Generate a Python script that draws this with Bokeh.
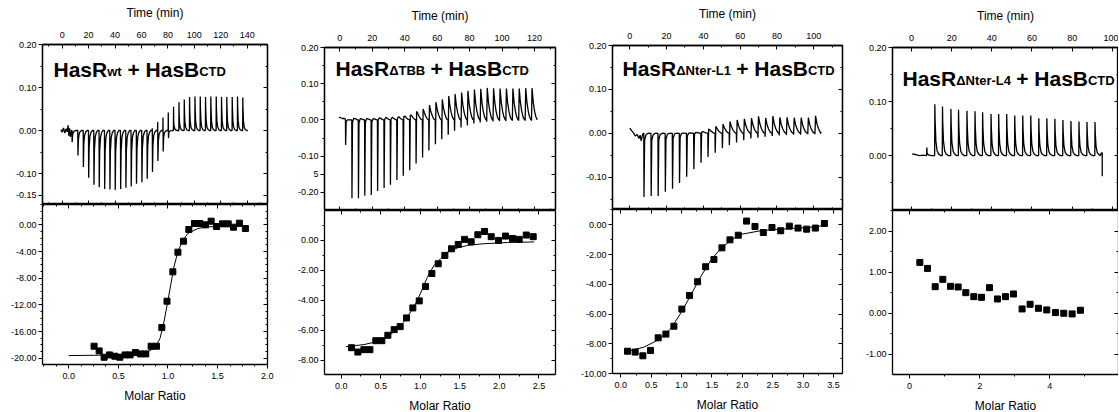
from bokeh.plotting import figure
from bokeh.layouts import row, column
from bokeh.models import LinearAxis, FixedTicker, CustomJSTickFormatter, Range1d, Label
from bokeh.embed import file_html
from bokeh.resources import INLINE

FONT = "Liberation Sans"

# ---------------- panel 1: HasR wt ----------------
p1_pre_t = [-1.0, 0.0, 1.0, 2.0, 3.0, 3.8, 4.5, 5.0, 5.6, 6.2, 7.0]
p1_pre_y = [0.002, -0.004, 0.006, -0.006, 0.004, -0.003, 0.012, -0.012, 0.005, -0.015, 0.0]
p1_inj_t = [7.3, 11.7, 15.8, 19.8, 23.8, 27.8, 31.9, 35.9, 39.9, 44.0, 48.0, 52.0, 56.0, 60.1,
            64.1, 68.1, 72.2, 76.2, 80.2, 84.2, 88.3, 92.3, 96.3, 100.4, 104.4, 108.4, 112.4,
            116.5, 120.5, 124.5, 128.6, 132.6, 136.6]
p1_neg = [-0.027, -0.058, -0.085, -0.110, -0.126, -0.132, -0.136, -0.137, -0.138, -0.136, -0.133,
          -0.130, -0.124, -0.120, -0.112, -0.100, -0.085, -0.070, -0.047, -0.022, -0.010, -0.005,
          -0.004, -0.003, -0.003, -0.003, -0.002, -0.002, -0.002, -0.002, -0.002, -0.002, -0.002]
p1_pos = [0, 0, 0, 0, 0, 0, 0, 0, 0, 0, 0, 0, 0, 0, 0, 0.005, 0.020, 0.030, 0.042, 0.055, 0.066,
          0.072, 0.078, 0.079, 0.079, 0.078, 0.079, 0.079, 0.078, 0.078, 0.078, 0.079, 0.077]
p1_end_t = [140.5]
p1_end_y = [0.0]
p1_mr = [0.255, 0.306, 0.356, 0.41, 0.464, 0.514, 0.568, 0.618, 0.672, 0.723, 0.776, 0.83, 0.884,
         0.938, 0.99, 1.049, 1.10, 1.156, 1.21, 1.267, 1.32, 1.378, 1.435, 1.49, 1.55, 1.607,
         1.66, 1.72, 1.78]
p1_heat = [-18.2, -18.9, -19.85, -19.5, -19.7, -19.85, -19.5, -19.5, -19.15, -19.35, -19.35, -18.2,
           -18.2, -15.4, -11.45, -7.05, -4.1, -2.45, -0.7, 0.2, 0.2, 0.0, 0.55, -0.25, 0.15, 0.15,
           -0.35, 0.25, -0.55]
p1_fit_x = [0.0, 0.3, 0.6, 0.8, 0.87, 0.92, 0.96, 1.0, 1.03, 1.06, 1.1, 1.15, 1.2, 1.3, 1.4, 1.55, 1.78]
p1_fit_y = [-19.6, -19.55, -19.4, -19.0, -18.4, -17.0, -14.5, -11.3, -8.8, -6.3, -4.0, -2.3, -1.3,
            -0.55, -0.3, -0.22, -0.2]

# ---------------- panel 2: HasR dTBB ----------------
p2_pre_t = [-0.5, 0.5, 1.5, 2.5, 3.3]
p2_pre_y = [0.008, 0.006, 0.004, 0.004, 0.003]
p2_inj_t = [3.5, 7.4, 11.4, 15.3, 19.3, 23.2, 27.2, 31.1, 35.1, 39.0, 43.0, 46.9, 50.9, 54.8, 58.8,
            62.7, 66.7, 70.6, 74.6, 78.5, 82.5, 86.4, 90.4, 94.3, 98.3, 102.2, 106.2, 110.1, 114.1, 118.0]
p2_neg = [-0.069, -0.216, -0.216, -0.209, -0.207, -0.196, -0.188, -0.179, -0.166, -0.154, -0.139,
          -0.120, -0.104, -0.084, -0.067, -0.053, -0.041, -0.030, -0.021, -0.015, -0.010, -0.007,
          -0.005, -0.004, -0.003, -0.003, -0.002, -0.002, -0.002, -0.002]
p2_pos = [0.004, 0.020, 0.018, 0.018, 0.018, 0.022, 0.023, 0.023, 0.025, 0.028, 0.030, 0.038, 0.043,
          0.051, 0.057, 0.063, 0.071, 0.075, 0.078, 0.082, 0.085, 0.087, 0.089, 0.088, 0.087, 0.087,
          0.087, 0.087, 0.088, 0.088]
p2_end_t = [121.6]
p2_end_y = [0.0]
p2_mr = [0.131, 0.211, 0.287, 0.363, 0.438, 0.514, 0.590, 0.670, 0.746, 0.826, 0.906, 0.987, 1.067,
         1.147, 1.227, 1.311, 1.395, 1.480, 1.560, 1.644, 1.728, 1.813, 1.897, 1.990, 2.078, 2.167,
         2.251, 2.340, 2.428]
p2_heat = [-7.17, -7.46, -7.30, -7.30, -6.70, -6.70, -6.34, -5.96, -5.76, -5.18, -4.51, -4.04, -3.08,
           -2.21, -1.56, -1.00, -0.56, -0.27, 0.07, -0.09, 0.38, 0.60, 0.25, 0.0, 0.29, 0.13, 0.07,
           0.36, 0.25]
p2_fit_x = [0.06, 0.29, 0.5, 0.67, 0.79, 0.92, 1.0, 1.09, 1.17, 1.26, 1.34, 1.47, 1.6, 1.8, 2.1, 2.44]
p2_fit_y = [-7.1, -6.96, -6.7, -6.1, -5.47, -4.46, -3.57, -2.46, -1.7, -1.2, -0.8, -0.5, -0.33,
            -0.22, -0.14, -0.1]

# ---------------- panel 3: HasR dNter-L1 ----------------
p3_pre_t = [0.0, 1.0, 2.0, 3.0, 4.0, 5.0, 5.6, 6.2, 6.8, 7.3]
p3_pre_y = [0.012, 0.006, 0.001, -0.006, -0.003, -0.012, -0.004, -0.017, -0.005, 0.0]
p3_inj_t = [7.6, 11.5, 15.3, 19.2, 23.1, 26.9, 30.8, 34.7, 38.6, 42.4, 46.3, 50.2, 54.0, 57.9, 61.8,
            65.7, 69.5, 73.4, 77.3, 81.1, 85.0, 88.9, 92.7, 96.6, 100.5]
p3_neg = [-0.145, -0.143, -0.143, -0.133, -0.126, -0.113, -0.099, -0.082, -0.067, -0.054, -0.044,
          -0.034, -0.027, -0.021, -0.016, -0.012, -0.010, -0.008, -0.006, -0.005, -0.004, -0.003,
          -0.003, -0.002, -0.002]
p3_pos = [0.002, 0.002, 0.003, 0.003, 0.004, 0.005, 0.006, 0.008, 0.011, 0.016, 0.021, 0.025, 0.030,
          0.033, 0.035, 0.036, 0.040, 0.036, 0.040, 0.037, 0.037, 0.036, 0.036, 0.036, 0.040]
p3_end_t = [103.3]
p3_end_y = [0.0]
p3_mr = [0.110, 0.236, 0.363, 0.489, 0.615, 0.742, 0.874, 1.005, 1.132, 1.264, 1.396, 1.533, 1.665,
         1.797, 1.934, 2.071, 2.209, 2.346, 2.489, 2.632, 2.775, 2.918, 3.060, 3.203, 3.352]
p3_heat = [-8.50, -8.56, -8.81, -8.45, -7.60, -7.35, -6.82, -5.67, -4.75, -3.83, -2.82, -2.33, -1.55,
           -1.01, -0.70, 0.25, -0.11, -0.52, -0.18, -0.40, -0.09, -0.22, -0.29, -0.22, 0.09]
p3_fit_x = [0.11, 0.38, 0.65, 0.82, 0.98, 1.15, 1.31, 1.48, 1.64, 1.81, 1.97, 2.3, 2.6, 3.0, 3.2, 3.35]
p3_fit_y = [-8.5, -8.23, -7.67, -7.0, -5.99, -4.75, -3.52, -2.40, -1.61, -1.05, -0.65, -0.4, -0.3,
            -0.2, -0.15, -0.03]

# ---------------- panel 4: HasR dNter-L4 ----------------
p4_pre_t = [0.3, 2.0, 4.0, 6.0, 7.3]
p4_pre_y = [0.003, 0.002, 0.0, 0.001, 0.0]
p4_inj_t = [7.5, 11.5, 15.3, 19.5, 23.3, 27.5, 31.5, 35.3, 39.5, 43.3, 47.3, 51.3, 55.3, 59.3, 63.3,
            67.3, 71.3, 75.3, 79.3, 83.3, 87.3, 91.3]
p4_neg = [-0.006, -0.003, -0.003, -0.003, -0.003, -0.003, -0.003, -0.003, -0.003, -0.003, -0.003,
          -0.003, -0.003, -0.003, -0.003, -0.003, -0.003, -0.003, -0.003, -0.003, -0.003, -0.003]
p4_pos = [0.015, 0.095, 0.091, 0.086, 0.085, 0.083, 0.082, 0.080, 0.077, 0.077, 0.077, 0.074, 0.074,
          0.074, 0.069, 0.069, 0.068, 0.066, 0.064, 0.063, 0.062, 0.062]
p4_end_t = [94.0, 94.6, 95.0, 95.0]
p4_end_y = [0.0, 0.005, 0.005, -0.038]
p4_mr = [0.295, 0.513, 0.732, 0.950, 1.169, 1.387, 1.606, 1.834, 2.052, 2.280, 2.508, 2.736, 2.964,
         3.211, 3.439, 3.677, 3.914, 4.162, 4.399, 4.637, 4.874]
p4_heat = [1.237, 1.091, 0.647, 0.825, 0.655, 0.639, 0.501, 0.404, 0.388, 0.623, 0.348, 0.404, 0.469,
           0.105, 0.218, 0.121, 0.081, 0.016, 0.0, -0.016, 0.073]

# ---------------- peak shape templates (style only) ----------------
SHAPE_A = dict(offs=[0, 0.1, 0.25, 0.6, 1.2, 2.0, 3.0],
               fn=[0, 0, 1, 0.35, 0.12, 0.04, 0],
               fp=[0, 1, 0.7, 0.3, 0.1, 0.03, 0])
SHAPE_B = dict(offs=[0, 0.12, 0.45, 1.2, 2.0, 2.8, 3.5],
               fn=[0, 1, 0.12, 0.03, 0.01, 0, 0],
               fp=[0, 0, 1, 0.55, 0.28, 0.1, 0.02])


def build_trace(pre_t, pre_y, inj_t, neg, pos, end_t, end_y, shape):
    xs, ys = list(pre_t), list(pre_y)
    for t, n, p in zip(inj_t, neg, pos):
        for o, a, b in zip(shape["offs"], shape["fn"], shape["fp"]):
            xs.append(t + o)
            ys.append(n * a + p * b)
    xs += list(end_t)
    ys += list(end_y)
    return xs, ys


# Liberation Sans Bold advance widths (1/1000 em), for placing title pieces
AW = {'H': 722, 'a': 556, 's': 556, 'R': 722, 'B': 722, 'w': 778, 't': 333, ' ': 278, '+': 584,
      'C': 722, 'T': 611, 'D': 722, 'N': 722, 'e': 556, 'r': 389, '-': 333, 'L': 611, '1': 556,
      '4': 556, 'Δ': 668}


def text_w(s, size):
    return sum(AW.get(c, 600) for c in s) * size / 1000.0


def fmt(code):
    return CustomJSTickFormatter(code=code)


def style_axis(ax, size="9px"):
    ax.axis_line_color = "black"
    ax.axis_line_width = 1.3
    ax.major_tick_line_color = "black"
    ax.minor_tick_line_color = "black"
    ax.major_label_text_font = FONT
    ax.major_label_text_font_size = size
    ax.major_label_text_color = "black"
    ax.axis_label_text_font = FONT
    ax.axis_label_text_font_size = "12px"
    ax.axis_label_text_font_style = "normal"
    ax.axis_label_text_color = "black"


def tick_only_axis(tk, mn):
    ax = LinearAxis(ticker=FixedTicker(ticks=tk, minor_ticks=mn), formatter=fmt("return '';"))
    style_axis(ax, size="0px")
    ax.major_tick_in, ax.major_tick_out = 4, 0
    ax.minor_tick_in, ax.minor_tick_out = 2, 0
    ax.major_label_standoff = 0
    return ax


def make_panel(cfg):
    top = figure(frame_width=cfg["fw"], frame_height=cfg["th"], output_backend="svg",
                 toolbar_location=None, x_axis_location="above",
                 x_range=Range1d(*cfg["tx"]), y_range=Range1d(*cfg["ty"]),
                 min_border_left=cfg["bl"], min_border_right=cfg["br"],
                 min_border_top=cfg["bt"], min_border_bottom=0)
    bot = figure(frame_width=cfg["fw"], frame_height=cfg["bh"], output_backend="svg",
                 toolbar_location=None, x_axis_location="below",
                 x_range=Range1d(*cfg["bx"]), y_range=Range1d(*cfg["by"]),
                 min_border_left=cfg["bl"], min_border_right=cfg["br"],
                 min_border_top=0, min_border_bottom=cfg["bb"])
    for f in (top, bot):
        f.xgrid.visible = False
        f.ygrid.visible = False
        f.background_fill_color = "white"
        f.border_fill_color = "white"
    top.outline_line_color = "black"
    top.outline_line_width = 1.3
    bot.outline_line_color = None

    xa = top.xaxis[0]
    style_axis(xa)
    xa.axis_label = "Time (min)"
    xa.ticker = FixedTicker(ticks=cfg["tx_ticks"], minor_ticks=cfg["tx_minor"])
    xa.formatter = fmt("return tick.toFixed(0);")
    xa.major_tick_in, xa.major_tick_out = 4, 0
    xa.minor_tick_in, xa.minor_tick_out = 2, 0
    xa.major_label_standoff = 7
    xa.axis_label_standoff = 9

    ya = top.yaxis[0]
    style_axis(ya)
    ya.ticker = FixedTicker(ticks=cfg["ty_ticks"], minor_ticks=cfg["ty_minor"])
    ya.formatter = fmt(cfg.get("ty_fmt", "return tick.toFixed(2);"))
    ya.major_tick_in, ya.major_tick_out = 0, 4
    ya.minor_tick_in, ya.minor_tick_out = 0, 2
    ya.major_label_standoff = 2

    xb = bot.xaxis[0]
    style_axis(xb)
    xb.axis_label = "Molar Ratio"
    xb.ticker = FixedTicker(ticks=cfg["bx_ticks"], minor_ticks=cfg["bx_minor"])
    xb.formatter = fmt(cfg["bx_fmt"])
    xb.major_tick_in, xb.major_tick_out = 0, 4
    xb.minor_tick_in, xb.minor_tick_out = 0, 2
    xb.major_label_standoff = 4
    xb.axis_label_standoff = 7

    yb = bot.yaxis[0]
    style_axis(yb)
    yb.ticker = FixedTicker(ticks=cfg["by_ticks"], minor_ticks=cfg["by_minor"])
    yb.formatter = fmt("return tick.toFixed(2);")
    yb.major_tick_in, yb.major_tick_out = 0, 4
    yb.minor_tick_in, yb.minor_tick_out = 0, 2
    yb.major_label_standoff = 2

    # mirrored tick-only axes on the right and along the shared border
    top.add_layout(tick_only_axis(cfg["ty_ticks"], cfg["ty_minor"]), "right")
    bot.add_layout(tick_only_axis(cfg["by_ticks"], cfg["by_minor"]), "right")
    top.add_layout(tick_only_axis(cfg["tx_ticks"], cfg["tx_minor"]), "below")
    bot.add_layout(tick_only_axis(cfg["bx_ticks"], cfg["bx_minor"]), "above")

    tx, ty = build_trace(*cfg["trace"], cfg["shape"])
    top.line(tx, ty, line_color="black", line_width=1.3)
    if cfg.get("fit"):
        bot.line(cfg["fit"][0], cfg["fit"][1], line_color="black", line_width=1)
    bot.scatter(cfg["pts"][0], cfg["pts"][1], marker="square", size=6,
                fill_color="black", line_color="black")

    # title with subscripts, placed piece by piece from the frame's top-left corner
    x0 = cfg["tx"][0]
    y1 = cfg["ty"][1]
    dx = cfg["title_dx"]
    base = cfg["title_dy"]
    F, f_sub = 21, 13
    for txt, sub in (("HasR", False), (cfg["sub1"], True), (" ", False), ("+ HasB", False), ("CTD", True)):
        size = f_sub if sub else F
        if txt.strip():
            top.add_layout(Label(x=x0, y=y1, x_offset=dx, y_offset=-(base + (2 if sub else 0)),
                                 text=txt, text_font=FONT, text_font_style="bold",
                                 text_font_size=f"{size}px", text_color="black",
                                 text_baseline="alphabetic", text_align="left"))
        dx += text_w(txt, size)

    return column(top, bot, spacing=0)


panels = [
    dict(fw=225, th=160, bh=160, bl=42, br=17, bt=44, bb=40,
         tx=(-14.9, 155.4), ty=(-0.172, 0.2), bx=(-0.265, 2.003), by=(-20.94, 3.05),
         tx_ticks=[0, 20, 40, 60, 80, 100, 120, 140], tx_minor=list(range(-10, 160, 10)),
         ty_ticks=[-0.15, -0.1, 0.0, 0.1, 0.2], ty_minor=[-0.05, 0.05, 0.15],
         bx_ticks=[0.0, 0.5, 1.0, 1.5, 2.0], bx_minor=[i * 0.125 for i in range(-2, 17)],
         bx_fmt="return tick.toFixed(1);",
         by_ticks=[0, -4, -8, -12, -16, -20], by_minor=list(range(-20, 4)),
         trace=(p1_pre_t, p1_pre_y, p1_inj_t, p1_neg, p1_pos, p1_end_t, p1_end_y), shape=SHAPE_A,
         pts=(p1_mr, p1_heat), fit=(p1_fit_x, p1_fit_y),
         sub1="wt", title_dx=11, title_dy=25),
    dict(fw=231, th=163, bh=164, bl=40, br=17, bt=47, bb=30,
         tx=(-9.4, 132.9), ty=(-0.25, 0.2), bx=(-0.211, 2.71), by=(-8.96, 2.0),
         tx_ticks=[0, 20, 40, 60, 80, 100, 120], tx_minor=list(range(-10, 140, 10)),
         ty_ticks=[-0.2, -0.15, -0.1, 0.0, 0.1, 0.2], ty_minor=[-0.25, -0.05, 0.05, 0.15],
         ty_fmt="return (tick < -0.14 && tick > -0.16) ? '5' : tick.toFixed(2);",
         bx_ticks=[0.0, 0.5, 1.0, 1.5, 2.0, 2.5], bx_minor=[i * 0.25 for i in range(-1, 11)],
         bx_fmt="return tick.toFixed(1);",
         by_ticks=[0, -2, -4, -6, -8], by_minor=[1, -1, -3, -5, -7],
         trace=(p2_pre_t, p2_pre_y, p2_inj_t, p2_neg, p2_pos, p2_end_t, p2_end_y), shape=SHAPE_B,
         pts=(p2_mr, p2_heat), fit=(p2_fit_x, p2_fit_y),
         sub1="ΔTBB", title_dx=11, title_dy=21),
    dict(fw=230, th=164, bh=164, bl=40, br=10, bt=45, bb=31,
         tx=(-9.4, 115.6), ty=(-0.1735, 0.2), bx=(-0.137, 3.65), by=(-10.0, 1.03),
         tx_ticks=[0, 20, 40, 60, 80, 100], tx_minor=list(range(-10, 120, 10)),
         ty_ticks=[-0.1, 0.0, 0.1, 0.2], ty_minor=[-0.15, -0.05, 0.05, 0.15],
         bx_ticks=[0.0, 0.5, 1.0, 1.5, 2.0, 2.5, 3.0, 3.5], bx_minor=[i * 0.25 for i in range(0, 15)],
         bx_fmt="return tick.toFixed(1);",
         by_ticks=[0, -2, -4, -6, -8, -10], by_minor=[1, -1, -3, -5, -7, -9],
         trace=(p3_pre_t, p3_pre_y, p3_inj_t, p3_neg, p3_pos, p3_end_t, p3_end_y), shape=SHAPE_B,
         pts=(p3_mr, p3_heat), fit=(p3_fit_x, p3_fit_y),
         sub1="ΔNter-L1", title_dx=10, title_dy=23),
    dict(fw=226, th=163, bh=164, bl=40, br=0, bt=47, bb=30,
         tx=(-9.5, 103.1), ty=(-0.1016, 0.2), bx=(-0.485, 5.96), by=(-1.49, 2.5),
         tx_ticks=[0, 20, 40, 60, 80, 100], tx_minor=list(range(-10, 110, 10)),
         ty_ticks=[0.0, 0.1, 0.2], ty_minor=[-0.05, 0.05, 0.15],
         bx_ticks=[0, 2, 4], bx_minor=[1, 3, 5],
         bx_fmt="return tick.toFixed(0);",
         by_ticks=[2, 1, 0, -1], by_minor=[2.5, 1.5, 0.5, -0.5, -1.5],
         trace=(p4_pre_t, p4_pre_y, p4_inj_t, p4_neg, p4_pos, p4_end_t, p4_end_y), shape=SHAPE_A,
         pts=(p4_mr, p4_heat), fit=None,
         sub1="ΔNter-L4", title_dx=10, title_dy=31),
]

layout = row([make_panel(c) for c in panels], spacing=0)
open("out.html", "w").write(file_html(layout, INLINE))
